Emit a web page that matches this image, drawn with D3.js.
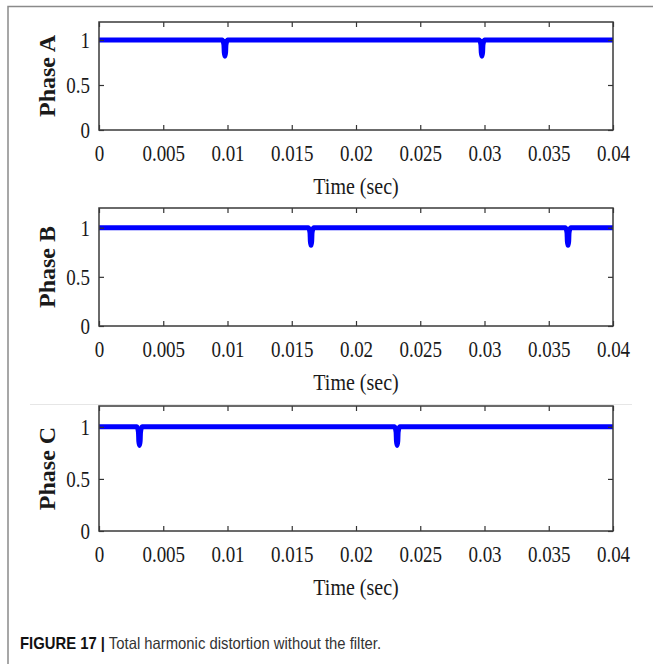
<!DOCTYPE html>
<html>
<head>
<meta charset="utf-8">
<script src="https://cdn.jsdelivr.net/npm/d3@7"></script>
<style>
  body { margin: 0; background: #fff; }
  svg { display: block; }
</style>
</head>
<body>
<svg width="653" height="664"></svg>
<script>
// tick values and labels
const xTicks = [0, 0.005, 0.01, 0.015, 0.02, 0.025, 0.03, 0.035, 0.04];
const xTickLabels = ["0", "0.005", "0.01", "0.015", "0.02", "0.025", "0.03", "0.035", "0.04"];
const yTicks = [0, 0.5, 1];
const yTickLabels = ["0", "0.5", "1"];
const phaseNames = ["Phase A", "Phase B", "Phase C"];

// THD per phase (time in s, value)
const phaseA_t = [0, 0.0096, 0.00972, 0.00975, 0.0098, 0.00985, 0.00988, 0.01, 0.0296, 0.02972, 0.02975, 0.0298, 0.02985, 0.02988, 0.03, 0.04];
const phaseA_v = [1, 1, 0.95, 0.86, 0.82, 0.86, 0.95, 1, 1, 0.95, 0.86, 0.82, 0.86, 0.95, 1, 1];
const phaseB_t = [0, 0.0163, 0.01642, 0.01645, 0.0165, 0.01655, 0.01658, 0.0167, 0.0363, 0.03642, 0.03645, 0.0365, 0.03655, 0.03658, 0.0367, 0.04];
const phaseB_v = [1, 1, 0.95, 0.86, 0.82, 0.86, 0.95, 1, 1, 0.95, 0.86, 0.82, 0.86, 0.95, 1, 1];
const phaseC_t = [0, 0.00295, 0.00307, 0.0031, 0.00315, 0.0032, 0.00323, 0.00335, 0.023, 0.02312, 0.02315, 0.0232, 0.02325, 0.02328, 0.0234, 0.04];
const phaseC_v = [1, 1, 0.95, 0.86, 0.82, 0.86, 0.95, 1, 1, 0.95, 0.86, 0.82, 0.86, 0.95, 1, 1];

const series = [
    { t: phaseA_t, v: phaseA_v },
    { t: phaseB_t, v: phaseB_v },
    { t: phaseC_t, v: phaseC_v }
];

const svg = d3.select("svg");

// page frame
svg.append("path")
    .attr("d", "M8,664 V6.5 H653")
    .attr("fill", "none")
    .attr("stroke", "#8a8a8a")
    .attr("stroke-width", 1.5);

// faint separator above the last panel
svg.append("line")
    .attr("x1", 30).attr("x2", 632)
    .attr("y1", 404.5).attr("y2", 404.5)
    .attr("stroke", "#e6e6e6")
    .attr("stroke-width", 1);

const left = 99, right = 613;
const panels = [
    { top: 22, bottom: 130 },
    { top: 208, bottom: 326 },
    { top: 406, bottom: 531 }
];

const x = d3.scaleLinear().domain([0, 0.04]).range([left, right]);
const serif = "'Liberation Serif', 'Times New Roman', serif";

panels.forEach(function(p, i) {
    const y = d3.scaleLinear().domain([0, 1.2]).range([p.bottom, p.top]);
    const g = svg.append("g");

    // curve
    const pts = series[i].t.map((t, k) => ({ t: t, v: series[i].v[k] }));
    g.append("path")
        .datum(pts)
        .attr("fill", "none")
        .attr("stroke", "#0000ff")
        .attr("stroke-width", 5)
        .attr("stroke-linejoin", "round")
        .attr("d", d3.line().x(d => x(d.t)).y(d => y(d.v)).curve(d3.curveMonotoneX));

    // axes with inward ticks
    const bottomAxis = g.append("g")
        .attr("transform", `translate(0,${p.bottom})`)
        .call(d3.axisBottom(x).tickValues(xTicks)
            .tickFormat((d, k) => xTickLabels[k])
            .tickSizeInner(-5).tickSizeOuter(0));
    bottomAxis.selectAll("text")
        .attr("y", null).attr("dy", null)
        .attr("transform", "translate(0,31) scale(1,1.2)");

    g.append("g")
        .attr("transform", `translate(0,${p.top})`)
        .call(d3.axisTop(x).tickValues(xTicks).tickFormat("")
            .tickSizeInner(-5).tickSizeOuter(0));

    const leftAxis = g.append("g")
        .attr("transform", `translate(${left},0)`)
        .call(d3.axisLeft(y).tickValues(yTicks)
            .tickFormat((d, k) => yTickLabels[k])
            .tickSizeInner(-5).tickSizeOuter(0).tickPadding(9));
    leftAxis.selectAll("text")
        .attr("dy", "0.34em")
        .attr("transform", "scale(1,1.2)");

    g.append("g")
        .attr("transform", `translate(${right},0)`)
        .call(d3.axisRight(y).tickValues(yTicks).tickFormat("")
            .tickSizeInner(-5).tickSizeOuter(0));

    g.selectAll(".domain").remove();
    g.selectAll(".tick line").attr("stroke", "#333").attr("stroke-width", 1.2);
    g.selectAll(".tick text")
        .attr("fill", "#1a1a1a")
        .style("font-family", serif)
        .style("font-size", "19px");

    // box
    g.append("rect")
        .attr("x", left).attr("y", p.top)
        .attr("width", right - left).attr("height", p.bottom - p.top)
        .attr("fill", "none")
        .attr("stroke", "#3a3a3a")
        .attr("stroke-width", 1.5);

    // x label
    g.append("text")
        .attr("transform", `translate(${(left + right) / 2},${p.bottom + 64}) scale(1,1.15)`)
        .attr("text-anchor", "middle")
        .attr("fill", "#1a1a1a")
        .style("font-family", serif)
        .style("font-size", "20px")
        .text("Time (sec)");

    // y label
    g.append("text")
        .attr("transform", `translate(55,${(p.top + p.bottom) / 2}) rotate(-90)`)
        .attr("text-anchor", "middle")
        .attr("fill", "#1a1a1a")
        .style("font-family", serif)
        .style("font-size", "24px")
        .style("font-weight", "bold")
        .text(phaseNames[i]);
});

// caption
const cap = svg.append("text")
    .attr("transform", "translate(20,649) scale(0.9,1.05)")
    .style("font-family", "'Liberation Sans', Arial, sans-serif")
    .style("font-size", "16.5px");
cap.append("tspan")
    .attr("font-weight", "bold")
    .attr("fill", "#111")
    .text("FIGURE 17 |");
cap.append("tspan")
    .attr("fill", "#333")
    .text(" Total harmonic distortion without the filter.");
</script>
</body>
</html>
